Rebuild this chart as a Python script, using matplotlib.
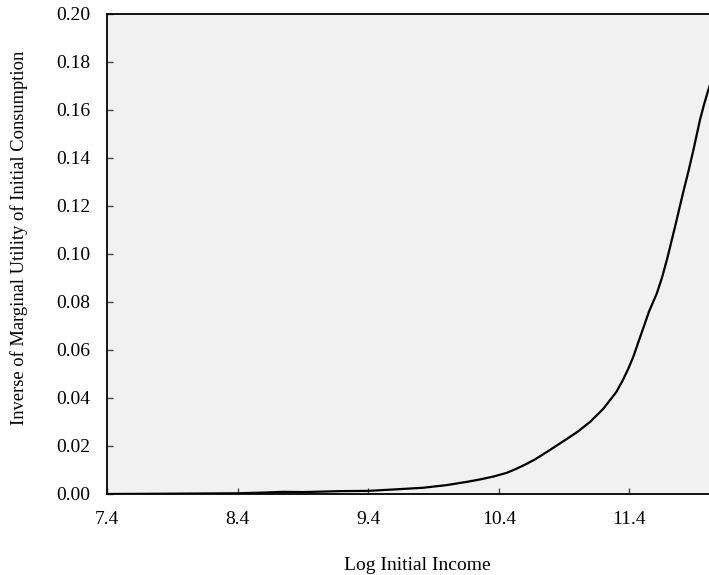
import numpy as np
import matplotlib.pyplot as plt

# curve
log_income = [7.40, 7.80, 8.10, 8.40, 8.60, 8.75, 8.90, 9.05, 9.19, 9.40, 9.60, 9.82,
              10.00, 10.16, 10.26, 10.36, 10.46, 10.53, 10.60, 10.68, 10.77, 10.90, 11.00,
              11.10, 11.20, 11.30, 11.35, 11.39, 11.43, 11.47, 11.51, 11.55, 11.61, 11.65,
              11.69, 11.75, 11.81, 11.85, 11.89, 11.94, 11.97, 12.00, 12.02]
inv_mu = [0.0000, 0.0001, 0.0002, 0.0003, 0.0006, 0.0009, 0.0008, 0.0010, 0.0012, 0.0013,
          0.0019, 0.0026, 0.0037, 0.0051, 0.0061, 0.0073, 0.0088, 0.0104, 0.0122, 0.0145,
          0.0176, 0.0222, 0.0258, 0.0301, 0.0355, 0.0425, 0.0475, 0.0520, 0.0572, 0.0635,
          0.0697, 0.0760, 0.0836, 0.0902, 0.0982, 0.1115, 0.1253, 0.1340, 0.1433, 0.1558,
          0.1620, 0.1676, 0.1710]

xticks = [7.4, 8.4, 9.4, 10.4, 11.4]
yticks = [0.00, 0.02, 0.04, 0.06, 0.08, 0.10, 0.12, 0.14, 0.16, 0.18, 0.20]

plt.rcParams['font.family'] = ['Liberation Serif', 'DejaVu Serif']
plt.rcParams['font.size'] = 14

fig = plt.figure(figsize=(7.09, 5.75), dpi=100)
# axes runs a bit past the right edge (the reference is cropped there)
ax = fig.add_axes([107/709, 81/575, 621/709, 480/575])
ax.set_facecolor('#f1f1f1')

ax.plot(log_income, inv_mu, color='black', lw=1.6)

ax.set_xlim(7.4, 7.4 + 621/130.6)
ax.set_ylim(0, 0.20)
ax.set_xticks(xticks)
ax.set_xticklabels(['%.1f' % t for t in xticks])
ax.set_yticks(yticks)
ax.set_yticklabels(['%.2f' % t for t in yticks])

ax.tick_params(direction='in', length=4, width=1, color='#444444', labelsize=14)
ax.tick_params(axis='x', pad=12)
ax.tick_params(axis='y', pad=12)

for s in ['left', 'bottom', 'top']:
    ax.spines[s].set_linewidth(1.3)
    ax.spines[s].set_color('black')
ax.spines['right'].set_visible(False)

ax.set_xlabel('Log Initial Income', fontsize=14, labelpad=21)
ax.set_ylabel('Inverse of Marginal Utility of Initial Consumption', fontsize=13.3, labelpad=20)
ax.yaxis.label.set_y(0.534)

plt.savefig('out.png', dpi=100)
